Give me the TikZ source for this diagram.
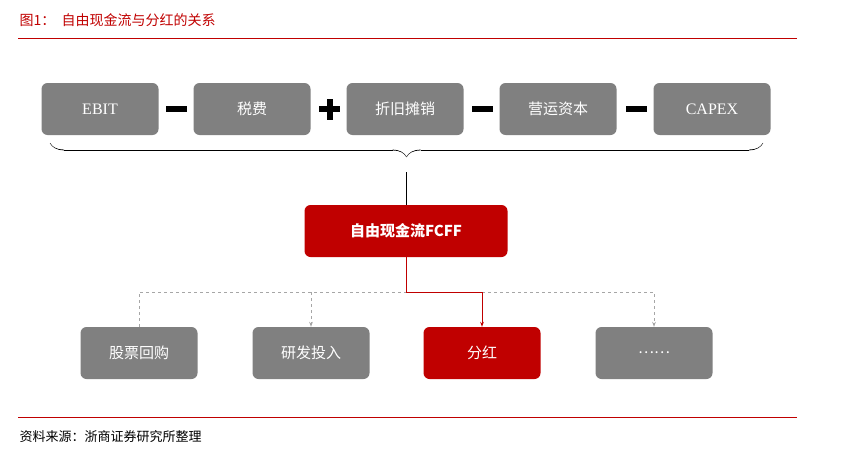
\documentclass[tikz,border=0pt]{standalone}
\usepackage{fontspec}
\setmainfont{Liberation Serif}
\newfontfamily\cjk{Noto Sans CJK SC}
\usetikzlibrary{arrows.meta}
\usetikzlibrary{decorations.pathreplacing,calligraphy}
\definecolor{zsred}{RGB}{192,0,0}
\definecolor{boxgrey}{RGB}{128,128,128}
\tikzset{>=Stealth}
\begin{document}
\begin{tikzpicture}[x=1pt,y=-1pt,
  every node/.style={draw=none,align=center},
  gbox/.style={fill=boxgrey,rounded corners=6pt,minimum width=117pt,minimum height=52pt,text=white,font=\cjk\fontsize{15}{15}\selectfont},
  rbox/.style={gbox,fill=zsred}]

\useasboundingbox (0,0) rectangle (850,452);

\node[anchor=west,text=zsred,font=\cjk\fontsize{14}{14}\selectfont] (title) at (16,20) {图1：\ \ 自由现金流与分红的关系};
\draw[zsred,line width=0.8pt] (18,38) -- (797,38);

\node[gbox,font=\fontsize{16}{16}\selectfont] (ebit) at (100,109) {EBIT};
\node[gbox] (tax) at (252,109) {税费};
\node[gbox] (da) at (405,109) {折旧摊销};
\node[gbox] (wc) at (558,109) {营运资本};
\node[gbox,font=\fontsize{16}{16}\selectfont] (capex) at (712,109) {CAPEX};
\fill (166,106) rectangle (187,112);
\fill (319,106) rectangle (340,112);
\fill (326.5,98.5) rectangle (332.5,119.5);
\fill (472,106) rectangle (493,112);
\fill (626,106) rectangle (647,112);

\draw[decorate,thick,decoration={calligraphic brace,amplitude=14pt,mirror}] (50,143) -- (763,143);
\coordinate (tip) at (406,172);

\node[rbox,minimum width=203pt,font=\cjk\bfseries\fontsize{15}{15}\selectfont] (fcff) at (406,231) {自由现金流\textbf{FCFF}};
\draw[thick] (tip) -- (fcff.north);

\node[gbox] (buy) at (139,353) {股票回购};
\node[gbox] (rd) at (311,353) {研发投入};
\node[rbox] (div) at (482,353) {分红};
\node[gbox] (etc) at (654,353) {……};

\draw[dashed,thick,black!35,-{Stealth[length=5pt]}] (buy.north) -- (139,292) -- (654,292) -- (etc.north);
\draw[dashed,thick,black!35,-{Stealth[length=5pt]}] (311,292) -- (rd.north);
\draw[zsred,thick,-{Stealth[length=5pt]}] (fcff.south) -- (406,292) -- (482,292) -- (div.north);

\draw[zsred,line width=0.8pt] (18,417) -- (797,417);
\node[anchor=west,font=\cjk\fontsize{13}{13}\selectfont] (src) at (16,437) {资料来源：浙商证券研究所整理};
\end{tikzpicture}
\end{document}
